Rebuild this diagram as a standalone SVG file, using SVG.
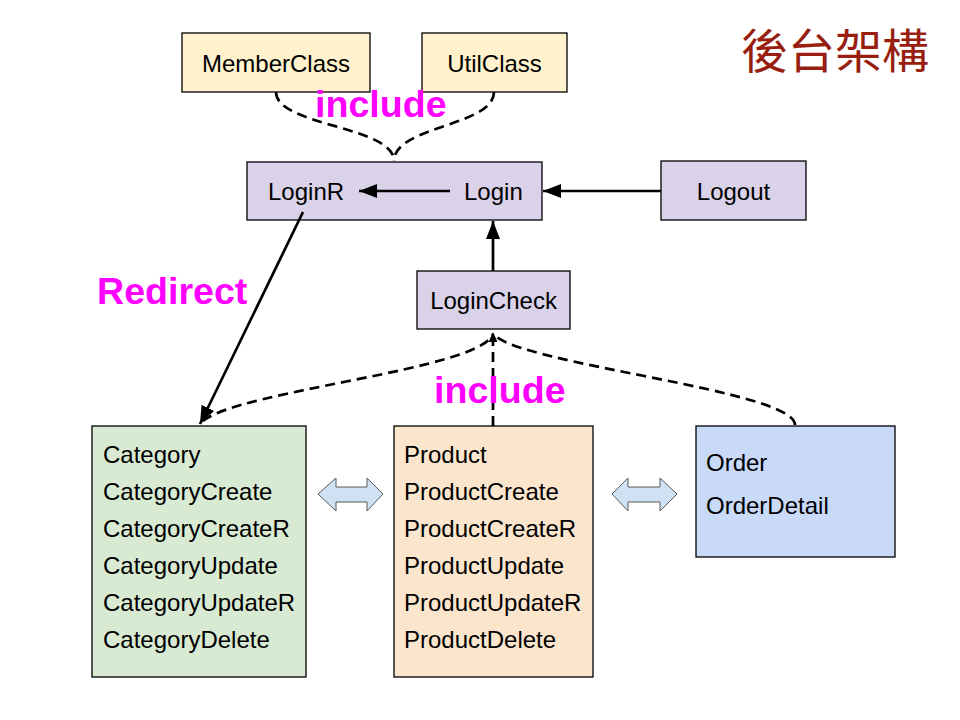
<svg xmlns="http://www.w3.org/2000/svg" width="960" height="720" viewBox="0 0 960 720">
<style>
.box{stroke:#000;stroke-width:1.3}
.t{font-family:"Liberation Sans",Arial,sans-serif;font-size:24px;fill:#000}
.c{text-anchor:middle}
.lbl{font-family:"Liberation Sans",Arial,sans-serif;font-size:37.6px;font-weight:bold;fill:#ff00ff}
.solid{fill:none;stroke:#000;stroke-width:2.7}
.dash{fill:none;stroke:#000;stroke-width:2.7;stroke-dasharray:10 6}
.dbl{fill:#cfe2f3;stroke:#595959;stroke-width:1}
</style>
<defs>
<marker id="ah" markerUnits="userSpaceOnUse" markerWidth="20" markerHeight="16" refX="18" refY="7" orient="auto">
<path d="M0,0 L18,7 L0,14 z" fill="#000"/>
</marker>
<marker id="ahs" markerUnits="userSpaceOnUse" markerWidth="12" markerHeight="12" refX="10" refY="4.5" orient="auto">
<path d="M0,0 L10,4.5 L0,9 z" fill="#000"/>
</marker>
</defs>
<rect width="960" height="720" fill="#fff"/>
<text x="741" y="68" style="font-family:'Noto Sans CJK TC','Noto Sans CJK SC',sans-serif;font-size:47px;fill:#981e10">後台架構</text>

<g id="MemberClass">
<rect class="box" x="182" y="33" width="188" height="59" fill="#fff2cc"/>
<text class="t c" x="276" y="72">MemberClass</text>
</g>
<g id="UtilClass">
<rect class="box" x="422" y="33" width="145" height="59" fill="#fff2cc"/>
<text class="t c" x="494.5" y="72">UtilClass</text>
</g>
<g id="Login">
<rect class="box" x="247" y="162" width="295" height="58" fill="#d9d2e9"/>
<text class="t" x="268" y="200">LoginR</text>
<text class="t" x="464" y="200">Login</text>
</g>
<g id="Logout">
<rect class="box" x="661" y="161" width="145" height="59" fill="#d9d2e9"/>
<text class="t c" x="733.5" y="200">Logout</text>
</g>
<g id="LoginCheck">
<rect class="box" x="417" y="271" width="153" height="58" fill="#d9d2e9"/>
<text class="t c" x="493.5" y="309">LoginCheck</text>
</g>
<g id="Category">
<rect class="box" x="92" y="426" width="214" height="251" fill="#d9ead3"/>
<text class="t" x="103" y="463">Category</text>
<text class="t" x="103" y="500">CategoryCreate</text>
<text class="t" x="103" y="537">CategoryCreateR</text>
<text class="t" x="103" y="574">CategoryUpdate</text>
<text class="t" x="103" y="611">CategoryUpdateR</text>
<text class="t" x="103" y="648">CategoryDelete</text>
</g>
<g id="Product">
<rect class="box" x="394" y="426" width="199" height="251" fill="#fce5cd"/>
<text class="t" x="404" y="463">Product</text>
<text class="t" x="404" y="500">ProductCreate</text>
<text class="t" x="404" y="537">ProductCreateR</text>
<text class="t" x="404" y="574">ProductUpdate</text>
<text class="t" x="404" y="611">ProductUpdateR</text>
<text class="t" x="404" y="648">ProductDelete</text>
</g>
<g id="Order">
<rect class="box" x="696" y="426" width="199" height="131" fill="#c9daf8"/>
<text class="t" x="706" y="471">Order</text>
<text class="t" x="706" y="514">OrderDetail</text>
</g>

<g id="connectors">
<path class="dash" d="M276,92 C276,126 394,126 394,161"/>
<path class="dash" d="M494,92 C494,126 394,126 394,161"/>
<line class="solid" x1="450" y1="191" x2="359" y2="191" marker-end="url(#ah)"/>
<line class="solid" x1="661" y1="191" x2="543" y2="191" marker-end="url(#ah)"/>
<line class="solid" x1="493" y1="271" x2="493" y2="221" marker-end="url(#ah)"/>
<line class="solid" x1="303" y1="212" x2="200" y2="424" marker-end="url(#ah)"/>
<path class="dash" d="M203,421 C240,390 480,370 493,334"/>
<path class="dash" d="M795,425 C795,390 520,365 493,334"/>
<line class="dash" x1="493" y1="426" x2="493" y2="332" marker-end="url(#ahs)"/>
<polygon class="dbl" points="318,494 336,478 336,487 367,487 367,478 383,494 367,511 367,502 336,502 336,511"/>
<polygon class="dbl" points="612,494 628,478 628,487 660,487 660,478 677,494 660,511 660,502 628,502 628,511"/>
</g>

<text class="lbl" x="315" y="117">include</text>
<text class="lbl" x="434" y="403">include</text>
<text class="lbl" x="97" y="304">Redirect</text>
</svg>
